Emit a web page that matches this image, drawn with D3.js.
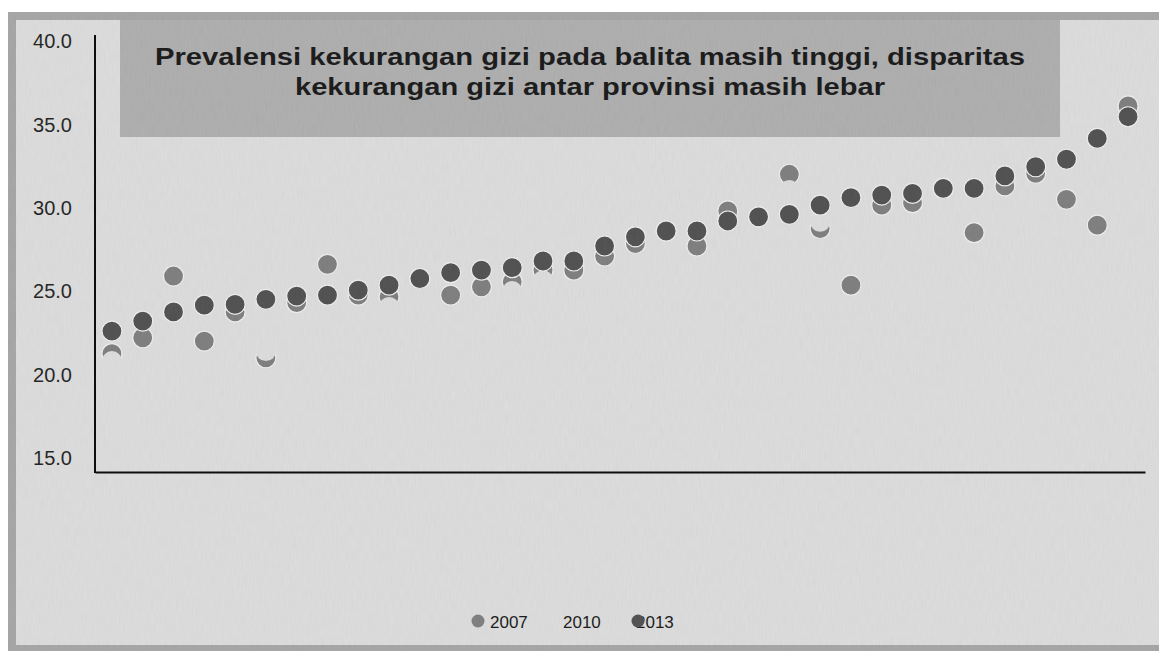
<!DOCTYPE html>
<html><head><meta charset="utf-8">
<script src="https://cdn.jsdelivr.net/npm/d3@7"></script>
<style>html,body{margin:0;padding:0;background:#fff;} svg{display:block}</style>
</head><body><svg id="c" width="1159" height="651"></svg>
<script>
// ---- data ----
const provinces = ["1","2","3","4","5","6","7","8","9","10","11","12","13","14","15","16","17",
  "18","19","20","21","22","23","24","25","26","27","28","29","30","31","32","33","34"];
const values2007 = [21.2,22.15,25.85,21.95,23.7,20.95,24.25,26.55,24.7,24.6,25.7,24.7,25.2,25.5,26.2,26.2,27.05,
  27.8,28.55,27.65,29.75,29.4,31.95,28.7,25.3,30.1,30.25,31.1,28.45,31.25,32.0,30.45,28.9,36.05];
const values2010 = [20.75,23.15,23.7,24.1,24.15,21.35,24.65,24.7,25.0,24.0,25.7,26.05,26.2,24.95,25.6,26.75,27.65,
  28.2,28.55,28.55,29.15,29.4,31.0,29.1,30.55,30.7,30.8,31.1,31.1,31.85,32.4,32.85,34.1,35.4];
const values2013 = [22.55,23.15,23.7,24.1,24.15,24.45,24.65,24.7,25.0,25.3,25.7,26.05,26.2,26.35,26.75,26.75,27.65,
  28.2,28.55,28.55,29.15,29.4,29.55,30.1,30.55,30.7,30.8,31.1,31.1,31.85,32.4,32.85,34.1,35.4];
const yTicks = [15,20,25,30,35,40];
const seriesNames = ["2007","2010","2013"];
const titleLines = ["Prevalensi kekurangan gizi pada balita masih tinggi, disparitas",
                    "kekurangan gizi antar provinsi masih lebar"];

// ---- styles ----
const BG = "#dddddd";
const colors = {"2007":"#7b7b7b","2010":BG,"2013":"#4b4b4b"};
const svg = d3.select("#c");

// paper texture
const defs = svg.append("defs");
const f = defs.append("filter").attr("id","paper").attr("x",0).attr("y",0).attr("width","100%").attr("height","100%");
f.append("feTurbulence").attr("type","fractalNoise").attr("baseFrequency","0.9 0.08").attr("numOctaves",2).attr("seed",4);
f.append("feColorMatrix").attr("type","matrix")
  .attr("values","0.33 0.33 0.33 0 0  0.33 0.33 0.33 0 0  0.33 0.33 0.33 0 0  0 0 0 0 1");

// frame
svg.append("rect").attr("width",1159).attr("height",651).attr("fill","#fff");
svg.append("rect").attr("x",8).attr("y",12).attr("width",1151).attr("height",639).attr("fill","#a4a4a4");
svg.append("rect").attr("x",16).attr("y",20).attr("width",1143).attr("height",625).attr("fill",BG);
svg.append("rect").attr("x",120).attr("y",20).attr("width",940).attr("height",117).attr("fill","#adadad");

// title
const title = svg.append("text").attr("font-family","'Liberation Sans', Arial, sans-serif")
  .attr("font-weight","bold").attr("font-size",23).attr("fill","#111").attr("text-anchor","middle");
const titleWidths = [870, 590];
title.selectAll("tspan").data(titleLines).join("tspan")
  .attr("x",590).attr("y",(d,i)=>65+i*30)
  .attr("textLength",(d,i)=>titleWidths[i]).attr("lengthAdjust","spacingAndGlyphs")
  .text(d=>d);

// scales
const y = d3.scaleLinear().domain([15,40]).range([457,40]);
const x = d3.scaleBand().domain(provinces).range([95,1145]).paddingOuter(0.05);
const cx = d => x(d) + x.bandwidth()/2;

// y axis
const yAxis = svg.append("g").attr("transform","translate(95,0)")
  .call(d3.axisLeft(y).tickValues(yTicks).tickFormat(d3.format(".1f")).tickSize(0).tickPadding(23));
yAxis.select(".domain").remove();
yAxis.selectAll("text").attr("font-family","'Liberation Sans', Arial, sans-serif").attr("font-size",20)
  .attr("fill","#1a1a1a").attr("dy","0.38em");
svg.append("line").attr("x1",95).attr("x2",95).attr("y1",y(40.3)).attr("y2",473)
  .attr("stroke","#000").attr("stroke-width",2);

// x axis
const xAxis = svg.append("g").attr("transform","translate(0,472)")
  .call(d3.axisBottom(x).tickValues([]).tickSizeOuter(0));
xAxis.select(".domain").attr("stroke","#000").attr("stroke-width",2);

// dots
const seriesData = [
  {name:"2007", values:values2007},
  {name:"2010", values:values2010},
  {name:"2013", values:values2013}];
seriesData.forEach(s=>{
  svg.append("g").selectAll("circle").data(provinces).join("circle")
    .attr("cx",d=>cx(d)).attr("cy",(d,i)=>y(s.values[i])).attr("r",10)
    .attr("fill",colors[s.name])
    .attr("stroke", s.name==="2010" ? "none" : "#f0f0f0")
    .attr("stroke-width",1.2);
});

// legend
const lg = svg.append("g").attr("font-family","'Liberation Sans', Arial, sans-serif").attr("font-size",17).attr("fill","#111");
const textX = [490,563,636], dotX = [478,551,638];
seriesNames.forEach((n,i)=>{
  lg.append("text").attr("x",textX[i]).attr("y",622).attr("dy","0.36em").text(n);
});
seriesNames.forEach((n,i)=>{
  lg.append("circle").attr("cx",dotX[i]).attr("cy",621).attr("r",6.5).attr("fill",colors[n]);
});

// paper texture on top of everything
svg.append("rect").attr("x",8).attr("y",12).attr("width",1151).attr("height",639)
  .attr("filter","url(#paper)").attr("opacity",0.07).attr("pointer-events","none");
</script></body></html>
